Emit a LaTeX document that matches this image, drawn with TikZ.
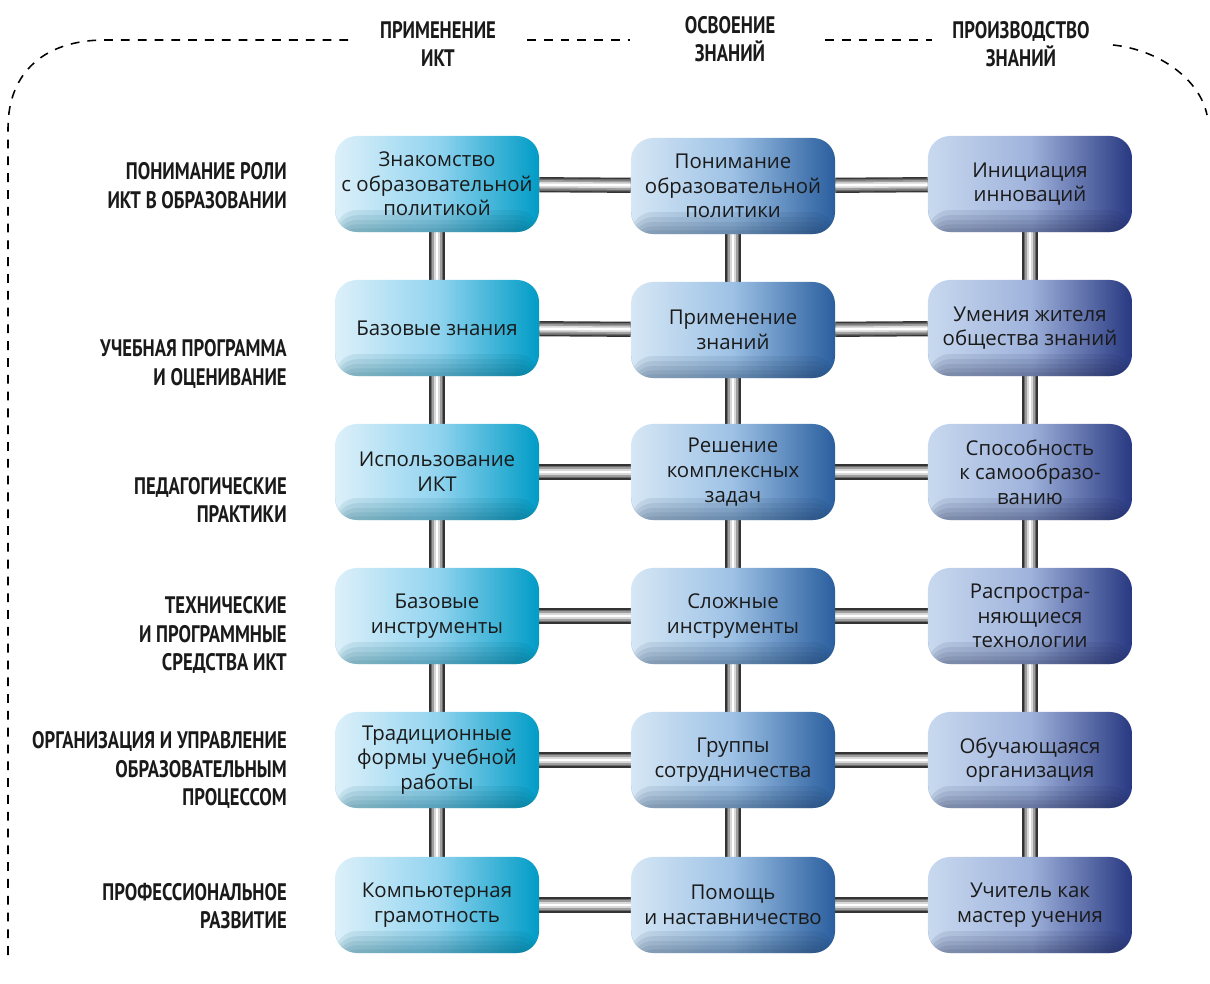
\documentclass[tikz,border=0pt]{standalone}
\usepackage{fontspec}
\setmainfont{Open Sans}
\newfontfamily\headfont[FakeStretch=0.78]{PT Sans}
\usetikzlibrary{backgrounds}

\definecolor{txt}{HTML}{1A1A1A}
\definecolor{cyanL}{HTML}{DDF0FA}
\definecolor{cyanM}{HTML}{92D4EF}
\definecolor{cyanR}{HTML}{009CC6}
\definecolor{blueL}{HTML}{D6E7F5}
\definecolor{blueM}{HTML}{9DC1E5}
\definecolor{blueR}{HTML}{2A5E9E}
\definecolor{navyL}{HTML}{C8D9EF}
\definecolor{navyM}{HTML}{9FB2DB}
\definecolor{navyR}{HTML}{283882}

\tikzset{
  box/.style={rectangle, rounded corners=0.55cm, minimum width=5.1cm,
    minimum height=2.4cm, align=center, text=txt, inner sep=1pt,
    font=\fontsize{14.5}{17.5}\selectfont,
    path picture={\foreach \h in {0.55,0.42,0.3,0.19,0.09}
      \fill[#1, opacity=0.09]
      (path picture bounding box.south west) rectangle
      ([yshift=\h cm]path picture bounding box.south east);}},
  boxA/.style={box=cyanR!55!black, left color=cyanL, right color=cyanR, middle color=cyanM},
  boxB/.style={box=blueR!55!black, left color=blueL, right color=blueR, middle color=blueM},
  boxC/.style={box=navyR!55!black, left color=navyL, right color=navyR, middle color=navyM},
  head/.style={align=center, text=txt, font=\headfont\bfseries\fontsize{17}{20}\selectfont},
  rowlabel/.style={anchor=east, align=right, text=txt, inner sep=0pt,
    font=\headfont\bfseries\fontsize{17}{20.5}\selectfont},
  bar/.style={line width=0.38cm, draw=black!80,
    postaction={draw=black!58, line width=0.31cm},
    postaction={draw=black!38, line width=0.23cm},
    postaction={draw=black!15, line width=0.14cm},
    postaction={draw=white, line width=0.06cm}},
  frame/.style={line width=1.1pt, dash pattern=on 0.22cm off 0.2cm}
}

\begin{document}
\begin{tikzpicture}[x=0.025cm, y=-0.025cm]
  \useasboundingbox (0,0) rectangle (1210,984);

  % column headings and the dashed frame
  \node[head] (hApply) at (438,44) {ПРИМЕНЕНИЕ\\ИКТ};
  \node[head] (hLearn) at (730,39) {ОСВОЕНИЕ\\ЗНАНИЙ};
  \node[head] (hMake) at (1021,44) {ПРОИЗВОДСТВО\\ЗНАНИЙ};
  \draw[frame] (8,955) -- (8,128) .. controls (8,72) and (45,40) .. (105,40) -- (352,40);
  \draw[frame] (527,40) -- (630,40);
  \draw[frame] (825,40) -- (932,40);
  \draw[frame] (1113,45) .. controls (1160,50) and (1200,80) .. (1207,115);

  % row labels
  \node[rowlabel] (lRole) at (287,186) {ПОНИМАНИЕ РОЛИ\\ИКТ В ОБРАЗОВАНИИ};
  \node[rowlabel] (lPlan) at (287,364) {УЧЕБНАЯ ПРОГРАММА\\И ОЦЕНИВАНИЕ};
  \node[rowlabel] (lPed) at (287,500) {ПЕДАГОГИЧЕСКИЕ\\ПРАКТИКИ};
  \node[rowlabel] (lTech) at (287,635) {ТЕХНИЧЕСКИЕ\\И ПРОГРАММНЫЕ\\СРЕДСТВА ИКТ};
  \node[rowlabel] (lOrg) at (287,770) {ОРГАНИЗАЦИЯ И УПРАВЛЕНИЕ\\ОБРАЗОВАТЕЛЬНЫМ\\ПРОЦЕССОМ};
  \node[rowlabel] (lProf) at (287,906) {ПРОФЕССИОНАЛЬНОЕ\\РАЗВИТИЕ};

  % first column
  \node[boxA] (r1c1) at (437,184) {Знакомство\\с образовательной\\политикой};
  \node[boxA] (r2c1) at (437,328) {Базовые знания};
  \node[boxA] (r3c1) at (437,472) {Использование\\ИКТ};
  \node[boxA] (r4c1) at (437,616) {Базовые\\инструменты};
  \node[boxA] (r5c1) at (437,760) {Традиционные\\формы учебной\\работы};
  \node[boxA] (r6c1) at (437,905) {Компьютерная\\грамотность};

  % second column
  \node[boxB] (r1c2) at (733,186) {Понимание\\образовательной\\политики};
  \node[boxB] (r2c2) at (733,330) {Применение\\знаний};
  \node[boxB] (r3c2) at (733,472) {Решение\\комплексных\\задач};
  \node[boxB] (r4c2) at (733,616) {Сложные\\инструменты};
  \node[boxB] (r5c2) at (733,760) {Группы\\сотрудничества};
  \node[boxB] (r6c2) at (733,905) {Помощь\\и наставничество};

  % third column
  \node[boxC] (r1c3) at (1030,184) {Инициация\\инноваций};
  \node[boxC] (r2c3) at (1030,328) {Умения жителя\\общества знаний};
  \node[boxC] (r3c3) at (1030,472) {Способность\\к самообразо-\\ванию};
  \node[boxC] (r4c3) at (1030,616) {Распростра-\\няющиеся\\технологии};
  \node[boxC] (r5c3) at (1030,760) {Обучающаяся\\организация};
  \node[boxC] (r6c3) at (1030,905) {Учитель как\\мастер учения};

  % metal rods behind the boxes
  \begin{scope}[on background layer]
    \foreach \r in {1,...,6}
      \draw[bar] (r\r c1) -- (r\r c2) -- (r\r c3);
    \foreach \c in {1,2,3}
      \draw[bar] (r1c\c) -- (r6c\c);
  \end{scope}
\end{tikzpicture}
\end{document}
